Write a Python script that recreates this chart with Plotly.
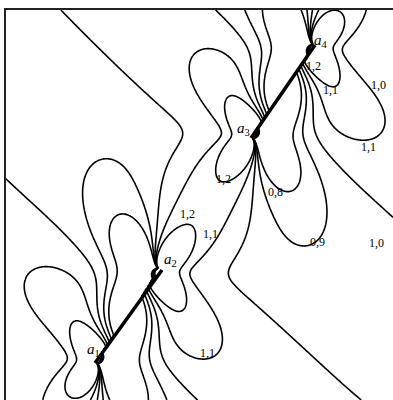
import numpy as np
import plotly.graph_objects as go

# Crack tip coordinates a1..a4 (cracks: a1-a2 and a3-a4)
tips_x = [89, 156, 245, 309]
tips_y = [37, 130, 262, 355]
tip_sub = ["1", "2", "3", "4"]
tip_label_x = [87, 164, 237, 315]
tip_label_y = [50, 140, 271, 359]

# Contour levels shown (normalised equivalent stress)
levels_start, levels_end, levels_step = 0.8, 1.2, 0.1
load_angle_deg = 90  # remote uniaxial tension direction

# Contour labels
clabels = ["1,2", "1,1", "1,0", "1,1", "1,2", "0,8", "1,2", "1,1", "0,9", "1,0", "1,1"]
clabel_x = [307, 324, 372, 362, 217, 269, 181, 204, 311, 370, 201]
clabel_y = [334, 310, 315, 253, 221, 208, 186, 166, 158, 157, 47]

X_RANGE = [0, 387]
Y_RANGE = [0, 390]


def field(load_deg):
    P = np.array([tips_x, tips_y], float).T
    M = (P[0] + P[3]) / 2
    u = P[3] - P[0]
    u /= np.linalg.norm(u)
    v = np.array([-u[1], u[0]])
    xs = [(p - M) @ u for p in P]
    A, b = [], []
    for (xa, xb, xc, xd) in [(xs[0], xs[1], xs[2], xs[3]), (xs[2], xs[3], xs[0], xs[1])]:
        phi = np.linspace(-np.pi / 2, np.pi / 2, 2001)
        m = (xa + xb) / 2
        h = (xb - xa) / 2
        x = m + h * np.sin(phi)
        g = 1 / np.sqrt(np.abs((x - xc) * (x - xd)))
        A.append([np.trapezoid(x * g, phi), np.trapezoid(g, phi)])
        b.append(-np.trapezoid(x * x * g, phi))
    p1, p0 = np.linalg.solve(np.array(A), np.array(b))
    gx = np.linspace(X_RANGE[0], X_RANGE[1], 420)
    gy = np.linspace(Y_RANGE[0], Y_RANGE[1], 420)
    X, Y = np.meshgrid(gx, gy)
    dX = X - M[0]
    dY = Y - M[1]
    xc = dX * u[0] + dY * u[1]
    yc = dX * v[0] + dY * v[1] + 1e-6
    z = xc + 1j * yc
    R = np.ones_like(z)
    S = np.zeros_like(z)
    for xi in xs:
        R = R * np.sqrt(z - xi)
        S = S + 1 / (z - xi)
    Pz = z * z + p1 * z + p0
    dP = 2 * z + p1
    Z0 = Pz / R
    Z0p = dP / R - Pz / R * S / 2
    a = np.deg2rad(load_deg)
    L = np.array([np.cos(a), np.sin(a)])
    Lx, Ly = L @ u, L @ v
    syy0, sxx0, t0 = Ly * Ly, Lx * Lx, Lx * Ly
    ZI, ZIp, ZII, ZIIp = syy0 * Z0, syy0 * Z0p, t0 * Z0, t0 * Z0p
    y = yc
    sxx = ZI.real - y * ZIp.imag + 2 * ZII.imag + y * ZIIp.real + (sxx0 - syy0)
    syy = ZI.real + y * ZIp.imag - y * ZIIp.real
    sxy = -y * ZIp.real + ZII.real - y * ZIIp.imag
    c = (sxx + syy) / 2
    r = np.sqrt(((sxx - syy) / 2) ** 2 + sxy ** 2)
    s1, s2 = c + r, c - r
    F = np.sqrt(s1 * s1 - s1 * s2 + s2 * s2)
    return gx, gy, F


fig = go.Figure()
gx, gy, F = field(load_angle_deg)
fig.add_trace(go.Contour(
    x=gx, y=gy, z=F,
    contours=dict(start=levels_start, end=levels_end, size=levels_step, coloring='lines'),
    line=dict(width=1.6, smoothing=1.2),
    colorscale=[[0, 'black'], [1, 'black']], showscale=False, hoverinfo='skip'))
fig.add_trace(go.Scatter(x=tips_x[:2], y=tips_y[:2], mode='lines', line=dict(color='black', width=3.5)))
fig.add_trace(go.Scatter(x=tips_x[2:], y=tips_y[2:], mode='lines', line=dict(color='black', width=3.5)))

for s, x, y in zip(tip_sub, tip_label_x, tip_label_y):
    fig.add_annotation(x=x, y=y, text="<i>a</i><sub>" + s + "</sub>",
                       showarrow=False, font=dict(family="Liberation Serif", size=15, color="black"))
for t, x, y in zip(clabels, clabel_x, clabel_y):
    fig.add_annotation(x=x, y=y, text=t, showarrow=False,
                       font=dict(family="Liberation Serif", size=12, color="black"))

fig.update_xaxes(showticklabels=False, ticks='', range=X_RANGE, showgrid=False, zeroline=False,
                 showline=True, linecolor='#222', linewidth=1.5, side='top', mirror=False)
fig.update_yaxes(showticklabels=False, ticks='', range=Y_RANGE, showgrid=False, zeroline=False,
                 showline=True, linecolor='#222', linewidth=1.5, mirror=False)
fig.update_layout(width=393, height=400, margin=dict(l=6, r=0, t=10, b=0), showlegend=False,
                  plot_bgcolor='white', paper_bgcolor='white')
fig.write_html("out.html")
